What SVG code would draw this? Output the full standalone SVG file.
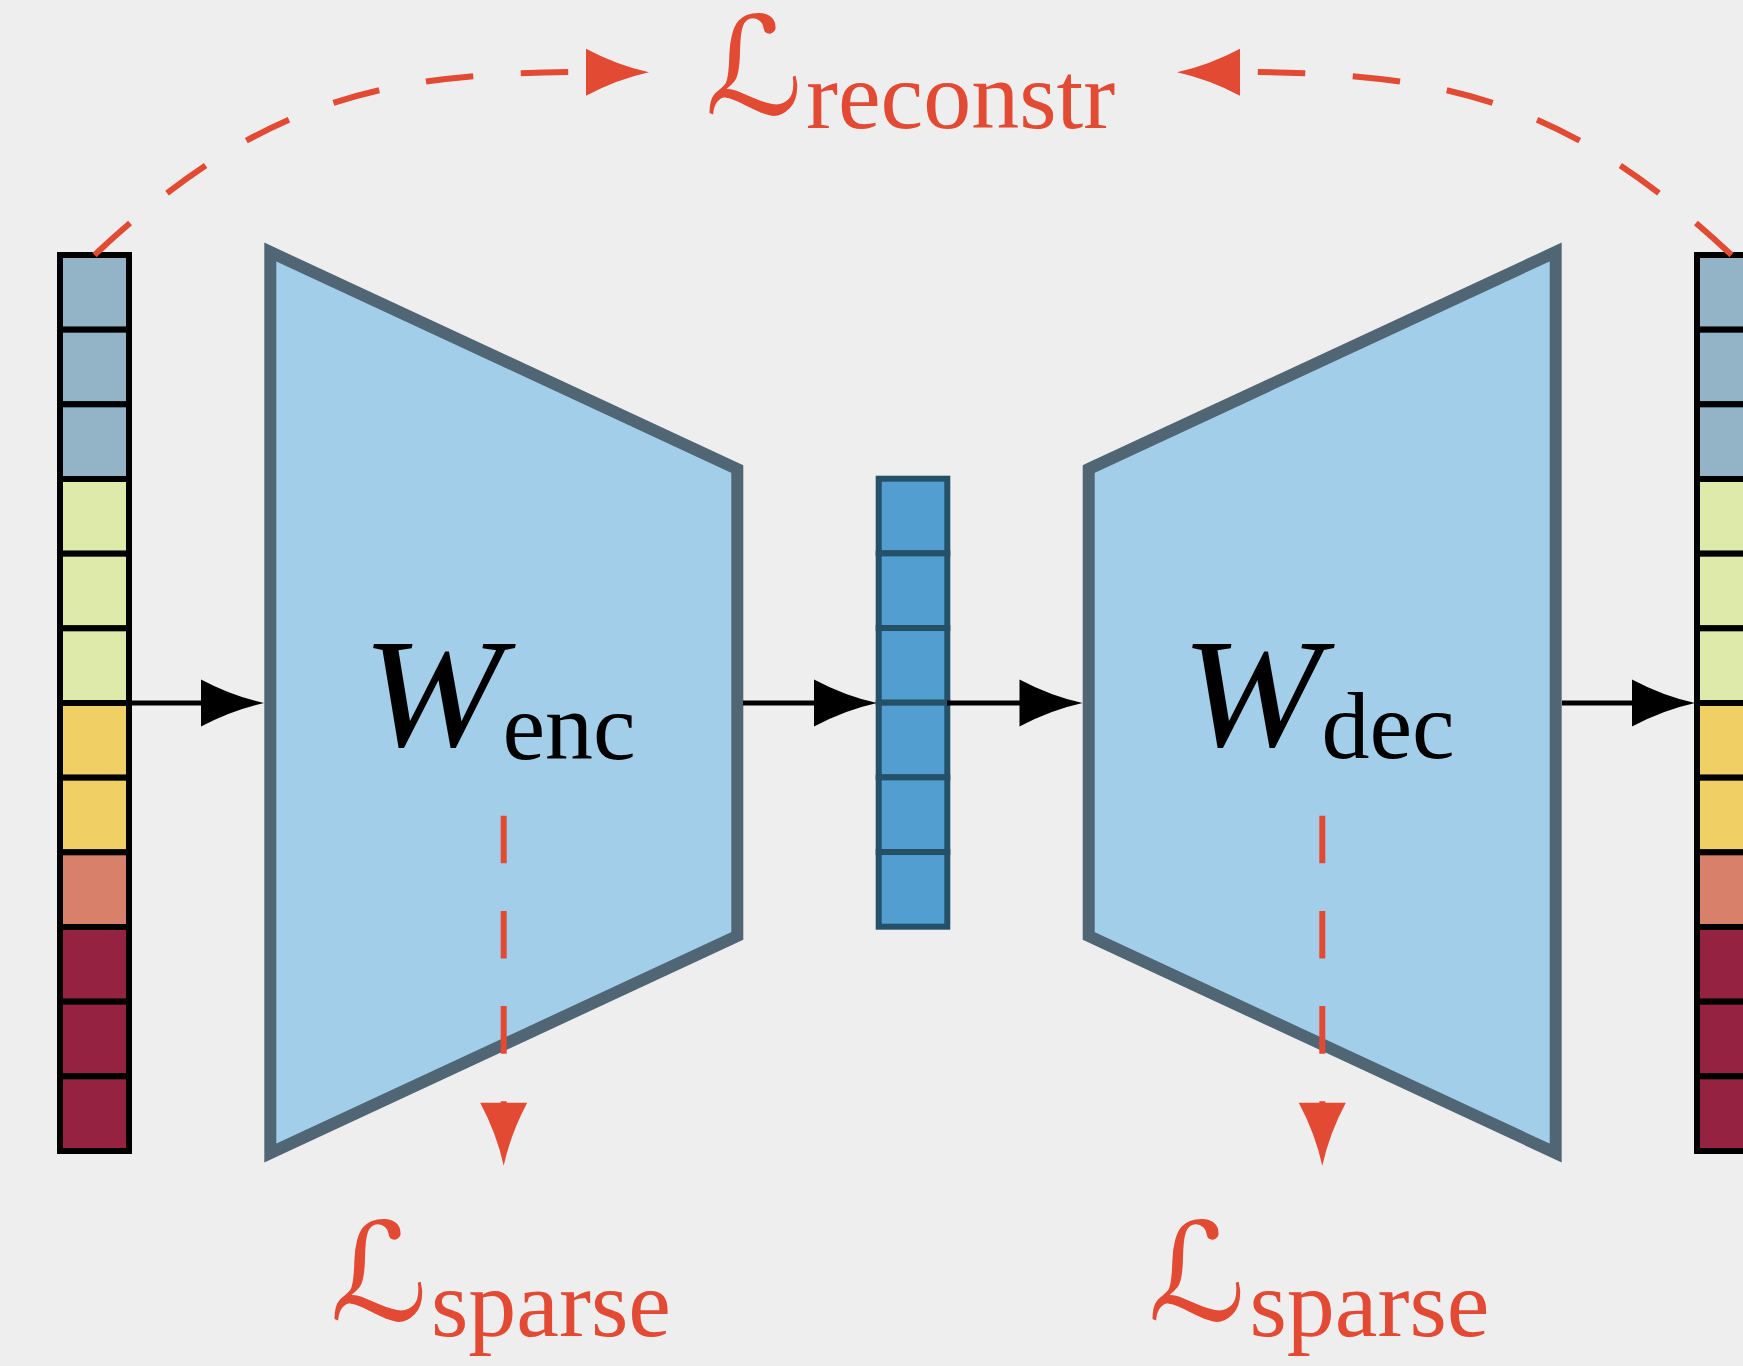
<svg xmlns="http://www.w3.org/2000/svg" xmlns:xlink="http://www.w3.org/1999/xlink" width="1743" height="1366" viewBox="0 0 1743 1366">
<style>
.bg{fill:#EEEEEE}
.cell{stroke:#000;stroke-width:6}
.c1{fill:#93B3C6}.c2{fill:#DDEAA9}.c3{fill:#F0D065}.c4{fill:#D8806A}.c5{fill:#942240}
.lat{fill:#529ED0;stroke:#245068;stroke-width:6}
.trap{fill:#A3CEE9;stroke:#506674;stroke-width:12;stroke-linejoin:miter}
.flow{stroke:#000;stroke-width:5;fill:none}
.loss{stroke:#E24A33;stroke-width:6;fill:none;stroke-dasharray:47.6 47.6}
.headk{fill:#000}
.headr{fill:#E24A33}
.w{font-family:"Liberation Serif","Times New Roman",serif;font-style:italic;font-size:154px;fill:#000}
.sub{font-family:"Liberation Serif","Times New Roman",serif;font-size:96px}
.cal{font-family:"DejaVu Serif","DejaVu Sans",serif;font-style:italic;font-size:136px}
.red{fill:#E24A33}
</style>
<defs>
<path id="ah" d="M0,0 Q-32,7 -63,23.5 L-63,-23.5 Q-32,-7 0,0 Z"/>
</defs>
<rect class="bg" x="0" y="0" width="1743" height="1366"/>

<g id="input-vector">
<rect class="cell c1" x="60" y="255" width="69" height="74.67"/>
<rect class="cell c1" x="60" y="329.67" width="69" height="74.67"/>
<rect class="cell c1" x="60" y="404.33" width="69" height="74.67"/>
<rect class="cell c2" x="60" y="479" width="69" height="74.67"/>
<rect class="cell c2" x="60" y="553.67" width="69" height="74.67"/>
<rect class="cell c2" x="60" y="628.33" width="69" height="74.67"/>
<rect class="cell c3" x="60" y="703" width="69" height="74.67"/>
<rect class="cell c3" x="60" y="777.67" width="69" height="74.67"/>
<rect class="cell c4" x="60" y="852.33" width="69" height="74.67"/>
<rect class="cell c5" x="60" y="927" width="69" height="74.67"/>
<rect class="cell c5" x="60" y="1001.67" width="69" height="74.67"/>
<rect class="cell c5" x="60" y="1076.33" width="69" height="74.67"/>
</g>

<g id="encoder">
<polygon class="trap" points="270.3,252 737.3,469 737.3,936 270.3,1153"/>
<text class="w" x="362" y="746" textLength="141" lengthAdjust="spacingAndGlyphs">W</text>
<text class="sub" x="502.5" y="759.3">enc</text>
</g>

<g id="latent">
<rect class="lat" x="878.7" y="478.7" width="68.6" height="74.67"/>
<rect class="lat" x="878.7" y="553.37" width="68.6" height="74.67"/>
<rect class="lat" x="878.7" y="628.03" width="68.6" height="74.67"/>
<rect class="lat" x="878.7" y="702.7" width="68.6" height="74.67"/>
<rect class="lat" x="878.7" y="777.37" width="68.6" height="74.67"/>
<rect class="lat" x="878.7" y="852.03" width="68.6" height="74.67"/>
</g>

<g id="decoder">
<polygon class="trap" points="1088.7,469 1555.7,252 1555.7,1153 1088.7,936"/>
<text class="w" x="1181" y="745.7" textLength="141" lengthAdjust="spacingAndGlyphs">W</text>
<text class="sub" x="1321.4" y="758.3">dec</text>
</g>

<g id="output-vector">
<rect class="cell c1" x="1697" y="255" width="69" height="74.67"/>
<rect class="cell c1" x="1697" y="329.67" width="69" height="74.67"/>
<rect class="cell c1" x="1697" y="404.33" width="69" height="74.67"/>
<rect class="cell c2" x="1697" y="479" width="69" height="74.67"/>
<rect class="cell c2" x="1697" y="553.67" width="69" height="74.67"/>
<rect class="cell c2" x="1697" y="628.33" width="69" height="74.67"/>
<rect class="cell c3" x="1697" y="703" width="69" height="74.67"/>
<rect class="cell c3" x="1697" y="777.67" width="69" height="74.67"/>
<rect class="cell c4" x="1697" y="852.33" width="69" height="74.67"/>
<rect class="cell c5" x="1697" y="927" width="69" height="74.67"/>
<rect class="cell c5" x="1697" y="1001.67" width="69" height="74.67"/>
<rect class="cell c5" x="1697" y="1076.33" width="69" height="74.67"/>
</g>

<g id="connectors">
<line class="flow" x1="132" y1="703" x2="210" y2="703"/>
<use xlink:href="#ah" class="headk" transform="translate(264,703)"/>
<line class="flow" x1="743" y1="703" x2="825" y2="703"/>
<use xlink:href="#ah" class="headk" transform="translate(877,703)"/>
<line class="flow" x1="947" y1="703" x2="1030" y2="703"/>
<use xlink:href="#ah" class="headk" transform="translate(1082.5,703)"/>
<line class="flow" x1="1562" y1="703" x2="1640" y2="703"/>
<use xlink:href="#ah" class="headk" transform="translate(1695,703)"/>

<path class="loss" d="M94.5,255 C259.5,100.6 380,72 588,72"/>
<use xlink:href="#ah" class="headr" transform="translate(649,72.3)"/>
<path class="loss" d="M1731.5,255 C1566.5,100.6 1446,72 1238,72"/>
<use xlink:href="#ah" class="headr" transform="translate(1177,72.3) rotate(180)"/>

<line class="loss" x1="503.7" y1="815.7" x2="503.7" y2="1104"/>
<use xlink:href="#ah" class="headr" transform="translate(503.7,1165.7) rotate(90)"/>
<line class="loss" x1="1322.3" y1="815.7" x2="1322.3" y2="1104"/>
<use xlink:href="#ah" class="headr" transform="translate(1322.3,1165.7) rotate(90)"/>
</g>

<g id="labels">
<text class="red"><tspan class="cal" x="705" y="114">ℒ</tspan><tspan class="sub" x="806" y="127.7">reconstr</tspan></text>
<text class="red"><tspan class="cal" x="330" y="1320">ℒ</tspan><tspan class="sub" x="431" y="1336">sparse</tspan></text>
<text class="red"><tspan class="cal" x="1148" y="1320">ℒ</tspan><tspan class="sub" x="1249.5" y="1336">sparse</tspan></text>
</g>
</svg>
